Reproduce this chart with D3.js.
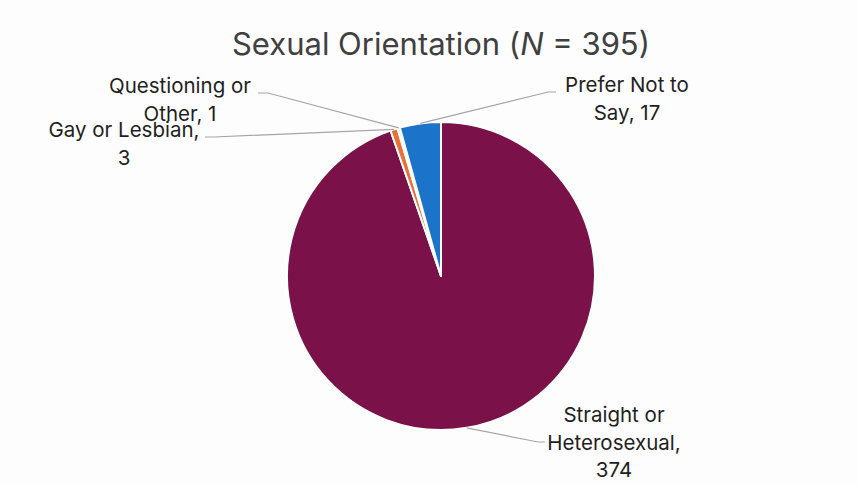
<!DOCTYPE html>
<html>
<head>
<meta charset="utf-8">
<script src="https://cdn.jsdelivr.net/npm/d3@7"></script>
<style>
  html, body { margin: 0; padding: 0; background: #fdfdfd; }
  svg { display: block; }
  text { font-family: "Inter", "Noto Sans", sans-serif; fill: #1f1f1f; }
</style>
</head>
<body>
<svg id="chart" width="858" height="485"></svg>
<script>
// Survey responses by sexual orientation
const categories = ["Straight or Heterosexual", "Gay or Lesbian", "Questioning or Other", "Prefer Not to Say"];
const counts = [374, 3, 1, 17];
const labelLines = [
  ["Straight or", "Heterosexual,", "374"],
  ["Gay or Lesbian,", "3"],
  ["Questioning or", "Other, 1"],
  ["Prefer Not to", "Say, 17"]
];
const total = 395;

// Slice colours and label placement
const colors = ["#7a1148", "#e8703a", "#f5c9a0", "#1b74c9"];
const labelLayout = [
  { x: 614, y: 422, anchorX: 545, anchorY: 442, elbowX: 538 },
  { x: 124, y: 137, anchorX: 205, anchorY: 137, elbowX: 214 },
  { x: 180, y: 93,  anchorX: 258, anchorY: 93,  elbowX: 268 },
  { x: 627, y: 92,  anchorX: 556, anchorY: 92,  elbowX: 548 }
];

const svg = d3.select("#chart");
const cx = 441, cy = 276, radius = 154;
const lineHeight = 27.5;

svg.append("text")
  .attr("x", 441)
  .attr("y", 55)
  .attr("text-anchor", "middle")
  .style("font-size", "31px")
  .style("fill", "#404040")
  .call(t => {
    t.append("tspan").text("Sexual Orientation (");
    t.append("tspan").style("font-style", "italic").text("N");
    t.append("tspan").text(" = " + total + ")");
  });

const pie = d3.pie().sort(null).value(d => d);
const arcs = pie(counts);
const arc = d3.arc().innerRadius(0).outerRadius(radius);

const g = svg.append("g").attr("transform", `translate(${cx},${cy})`);

g.selectAll("path.slice")
  .data(arcs)
  .join("path")
  .attr("class", "slice")
  .attr("d", arc)
  .attr("fill", (d, i) => colors[i])
  .attr("stroke", "#ffffff")
  .attr("stroke-width", 2)
  .attr("stroke-linejoin", "round");

// Leader lines from each slice's rim to its label
const rimPoint = d => {
  const a = (d.startAngle + d.endAngle) / 2;
  return [cx + radius * Math.sin(a), cy - radius * Math.cos(a)];
};

svg.append("g")
  .selectAll("polyline")
  .data(arcs)
  .join("polyline")
  .attr("points", (d, i) => {
    const p = rimPoint(d);
    const L = labelLayout[i];
    return [[L.anchorX, L.anchorY], [L.elbowX, L.anchorY], p].map(q => q.join(",")).join(" ");
  })
  .attr("fill", "none")
  .attr("stroke", "#a6a6a6")
  .attr("stroke-width", 1.2);

svg.append("g")
  .selectAll("text.label")
  .data(arcs)
  .join("text")
  .attr("class", "label")
  .attr("text-anchor", "middle")
  .style("font-size", "20.5px")
  .each(function(d, i) {
    const L = labelLayout[i];
    d3.select(this).selectAll("tspan")
      .data(labelLines[i])
      .join("tspan")
      .attr("x", L.x)
      .attr("y", (s, j) => L.y + j * lineHeight)
      .text(s => s);
  });
</script>
</body>
</html>
